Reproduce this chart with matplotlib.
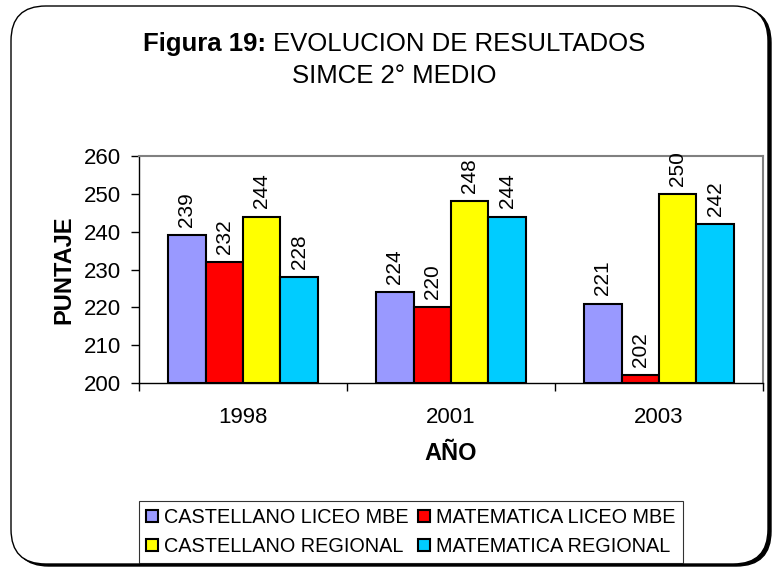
import numpy as np
import matplotlib.pyplot as plt
from matplotlib.patches import FancyBboxPatch

plt.rcParams['font.family'] = ['Liberation Sans', 'DejaVu Sans']

years = ['1998', '2001', '2003']
series = ['CASTELLANO LICEO MBE', 'MATEMATICA LICEO MBE',
          'CASTELLANO REGIONAL', 'MATEMATICA REGIONAL']
castellano_mbe = [239, 224, 221]
matematica_mbe = [232, 220, 202]
castellano_reg = [244, 248, 250]
matematica_reg = [228, 244, 242]
colors = ['#9999FF', '#FF0000', '#FFFF00', '#00CCFF']

W, H = 773, 570
fig = plt.figure(figsize=(W / 100, H / 100), dpi=100)

# rounded border with shadow
shadow = FancyBboxPatch((14 / W, 4 / H), 757 / W, 558 / H,
                        boxstyle="round,pad=0,rounding_size=0.045",
                        transform=fig.transFigure, facecolor='black',
                        edgecolor='black', mutation_aspect=W / H, zorder=0)
frame = FancyBboxPatch((11 / W, 6 / H), 757 / W, 558 / H,
                       boxstyle="round,pad=0,rounding_size=0.045",
                       transform=fig.transFigure, facecolor='white',
                       edgecolor='black', linewidth=1.0,
                       mutation_aspect=W / H, zorder=1)
fig.patches.extend([shadow, frame])

ax = fig.add_axes([139 / W, 1 - 383 / H, (763 - 139) / W, (383 - 156) / H])
ax.set_zorder(5)
ax.set_facecolor('none')

x = np.arange(len(years))
width = 0.18
data = [castellano_mbe, matematica_mbe, castellano_reg, matematica_reg]
bars = []
for i, (vals, col, name) in enumerate(zip(data, colors, series)):
    pos = x + (i - 1.5) * width
    b = ax.bar(pos, np.array(vals) - 200, bottom=200, width=width, color=col,
               edgecolor='black', linewidth=1.5, label=name)
    bars.append(b)
    for p, v in zip(pos, vals):
        ax.annotate(str(v), (p, v), xytext=(0, 6), textcoords='offset points',
                    rotation=90, ha='center', va='bottom', fontsize=15)

ax.set_ylim(200, 260)
ax.set_xlim(-0.5, 2.5)
ax.set_yticks(range(200, 261, 10))
ax.tick_params(axis='y', labelsize=16, length=6, width=1, pad=7)
ax.set_xticks([-0.5, 0.5, 1.5, 2.5])
ax.set_xticklabels([])
ax.tick_params(axis='x', which='major', length=6, width=1)
ax.set_xticks(x, minor=True)
ax.set_xticklabels(years, minor=True)
ax.tick_params(axis='x', which='minor', length=0, labelsize=16, pad=17)

for s in ['top', 'right']:
    ax.spines[s].set_color('#808080')
    ax.spines[s].set_linewidth(1.5)
for s in ['left', 'bottom']:
    ax.spines[s].set_color('black')
    ax.spines[s].set_linewidth(1.0)

ax.set_ylabel('PUNTAJE', fontsize=17, fontweight='bold', labelpad=6)
ax.set_xlabel('AÑO', fontsize=17, fontweight='bold', labelpad=10)

# title: bold "Figura 19:" followed by regular text, centred as one line
ty = 1 - 44 / H
b1 = fig.text(0, ty, 'Figura 19: ', fontsize=18.5, fontweight='bold',
              ha='left', va='center', zorder=5)
fig.canvas.draw()
w1 = b1.get_window_extent().width
b2 = fig.text(0, ty, 'EVOLUCION DE RESULTADOS', fontsize=18.5,
              ha='left', va='center', zorder=5)
fig.canvas.draw()
w2 = b2.get_window_extent().width
x0 = 394 - (w1 + w2) / 2
b1.set_x(x0 / W)
b2.set_x((x0 + w1) / W)
fig.text(394 / W, 1 - 76 / H, 'SIMCE 2° MEDIO', fontsize=18.5,
         ha='center', va='center', zorder=5)

order = [0, 2, 1, 3]
leg = fig.legend([bars[i] for i in order], [series[i] for i in order],
                 loc='lower left', bbox_to_anchor=(139 / W, 1 - 563 / H),
                 ncol=2, fontsize=14.3, frameon=True, fancybox=False,
                 handlelength=0.6, handleheight=0.6, handletextpad=0.3,
                 columnspacing=0.5, borderpad=0.35, labelspacing=0.5,
                 borderaxespad=0)
leg.set_zorder(5)
leg.get_frame().set_edgecolor('black')
leg.get_frame().set_linewidth(0.8)
for h in leg.legend_handles:
    h.set_linewidth(1.5)

fig.savefig('out.png', dpi=100)
